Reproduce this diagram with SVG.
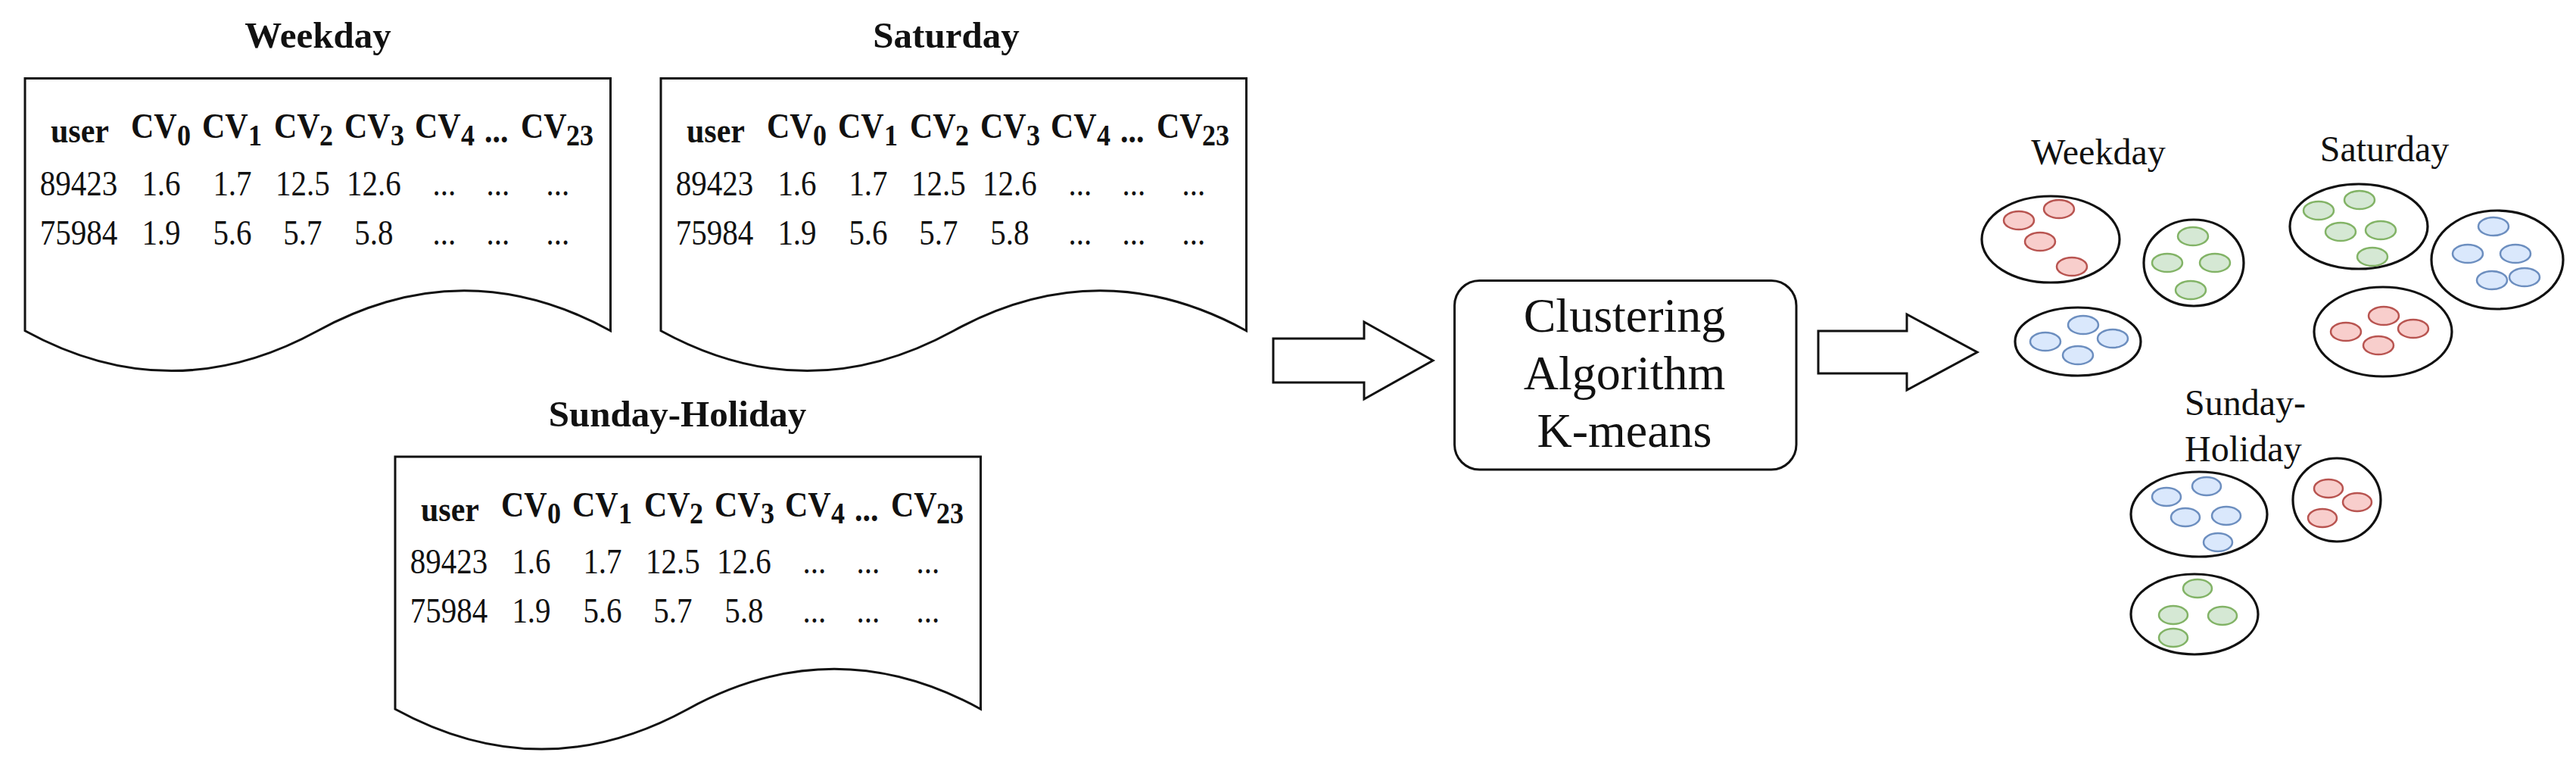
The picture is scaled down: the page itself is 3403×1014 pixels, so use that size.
<svg xmlns="http://www.w3.org/2000/svg" xmlns:xlink="http://www.w3.org/1999/xlink" width="3403" height="1014" viewBox="0 0 3403 1014">
<style>
text{font-family:"Liberation Serif","Times New Roman",serif;fill:#111}
.ttl{font-weight:bold;font-size:49px;text-anchor:middle}
.hdr{font-weight:bold;font-size:42px}
.sub{font-weight:bold;font-size:36px}
.val{font-size:41px;text-anchor:middle}
.lbl{font-size:48px}
.alg{font-size:64px;text-anchor:middle}
.shape{fill:#fff;stroke:#111;stroke-width:3}
.grp{fill:none;stroke:#111;stroke-width:3.2}
.r{fill:#f8cecc;stroke:#b85450;stroke-width:2.5}
.g{fill:#d5e8d4;stroke:#82b366;stroke-width:2.5}
.b{fill:#dae8fc;stroke:#6c8ebf;stroke-width:2.5}
</style>
<defs>
<path id="docShape" class="shape" d="M0,0 H773.5 V333.2 Q580.1,227.4 386.75,333.2 Q193.4,439 0,333.2 Z"/>
<g id="tbl">
<g transform="scale(1,1.13)">
<text class="hdr" x="34" y="74.8">user</text>
<text class="hdr" x="140" y="69.5">CV</text><text class="sub" x="201" y="78.3">0</text>
<text class="hdr" x="234" y="69.5">CV</text><text class="sub" x="295" y="78.3">1</text>
<text class="hdr" x="329" y="69.5">CV</text><text class="sub" x="389" y="78.3">2</text>
<text class="hdr" x="422" y="69.5">CV</text><text class="sub" x="483" y="78.3">3</text>
<text class="hdr" x="515" y="69.5">CV</text><text class="sub" x="576" y="78.3">4</text>
<text class="hdr" x="607" y="74.8">...</text>
<text class="hdr" x="655" y="69.5">CV</text><text class="sub" x="715" y="78.3">23</text>
<text class="val" x="71" y="136.7">89423</text>
<text class="val" x="180" y="136.7">1.6</text>
<text class="val" x="274" y="136.7">1.7</text>
<text class="val" x="367" y="136.7">12.5</text>
<text class="val" x="461" y="136.7">12.6</text>
<text class="val" x="554" y="136.7">...</text>
<text class="val" x="625" y="136.7">...</text>
<text class="val" x="704" y="136.7">...</text>
<text class="val" x="71" y="194.2">75984</text>
<text class="val" x="180" y="194.2">1.9</text>
<text class="val" x="274" y="194.2">5.6</text>
<text class="val" x="367" y="194.2">5.7</text>
<text class="val" x="461" y="194.2">5.8</text>
<text class="val" x="554" y="194.2">...</text>
<text class="val" x="625" y="194.2">...</text>
<text class="val" x="704" y="194.2">...</text>
</g>
</g>
</defs>
<rect width="3403" height="1014" fill="#fff"/>

<g id="doc-weekday">
<text class="ttl" x="420" y="63">Weekday</text>
<g transform="translate(33,103.5)"><use href="#docShape"/><use href="#tbl"/></g>
</g>
<g id="doc-saturday">
<text class="ttl" x="1250" y="63">Saturday</text>
<g transform="translate(873,103.5)"><use href="#docShape"/><use href="#tbl"/></g>
</g>
<g id="doc-sunday">
<text class="ttl" x="895" y="563">Sunday-Holiday</text>
<g transform="translate(522,603)"><use href="#docShape"/><use href="#tbl"/></g>
</g>

<g id="clustering">
<rect class="shape" x="1921.5" y="370.5" width="451.5" height="249.5" rx="33"/>
<text class="alg" x="2146" y="438">Clustering</text>
<text class="alg" x="2146" y="514">Algorithm</text>
<text class="alg" x="2146" y="590">K-means</text>
</g>

<g id="connectors">
<polygon id="arrow-in" class="shape" points="1682,447 1802,447 1802,425 1893,476 1802,527 1802,505 1682,505"/>
<polygon id="arrow-out" class="shape" points="2402,437 2519,437 2519,415 2612,465 2519,515 2519,493 2402,493"/>
</g>

<g id="clusters-weekday">
<text class="lbl" x="2772" y="217" text-anchor="middle">Weekday</text>
<ellipse class="grp" cx="2709" cy="316" rx="91" ry="57"/>
<ellipse class="r" cx="2667" cy="291" rx="20" ry="12"/>
<ellipse class="r" cx="2720" cy="276" rx="20" ry="12"/>
<ellipse class="r" cx="2695" cy="319" rx="20" ry="12"/>
<ellipse class="r" cx="2737" cy="352" rx="20" ry="12"/>
<ellipse class="grp" cx="2898" cy="347" rx="66" ry="57"/>
<ellipse class="g" cx="2897" cy="312" rx="20" ry="12"/>
<ellipse class="g" cx="2863" cy="347" rx="20" ry="12"/>
<ellipse class="g" cx="2926" cy="347" rx="20" ry="12"/>
<ellipse class="g" cx="2894" cy="383" rx="20" ry="12"/>
<ellipse class="grp" cx="2745" cy="451" rx="83" ry="45"/>
<ellipse class="b" cx="2752" cy="429" rx="20" ry="12"/>
<ellipse class="b" cx="2702" cy="451" rx="20" ry="12"/>
<ellipse class="b" cx="2791" cy="447" rx="20" ry="12"/>
<ellipse class="b" cx="2745" cy="469" rx="20" ry="12"/>
</g>

<g id="clusters-saturday">
<text class="lbl" x="3150" y="213" text-anchor="middle">Saturday</text>
<ellipse class="grp" cx="3116" cy="299" rx="91" ry="56"/>
<ellipse class="g" cx="3063" cy="278" rx="20" ry="12"/>
<ellipse class="g" cx="3117" cy="264" rx="20" ry="12"/>
<ellipse class="g" cx="3092" cy="306" rx="20" ry="12"/>
<ellipse class="g" cx="3145" cy="304" rx="20" ry="12"/>
<ellipse class="g" cx="3134" cy="339" rx="20" ry="12"/>
<ellipse class="grp" cx="3299" cy="343" rx="87" ry="65"/>
<ellipse class="b" cx="3294" cy="299" rx="20" ry="12"/>
<ellipse class="b" cx="3260" cy="335" rx="20" ry="12"/>
<ellipse class="b" cx="3323" cy="335" rx="20" ry="12"/>
<ellipse class="b" cx="3292" cy="370" rx="20" ry="12"/>
<ellipse class="b" cx="3335" cy="366" rx="20" ry="12"/>
<ellipse class="grp" cx="3148" cy="438" rx="91" ry="59"/>
<ellipse class="r" cx="3149" cy="417" rx="20" ry="12"/>
<ellipse class="r" cx="3099" cy="438" rx="20" ry="12"/>
<ellipse class="r" cx="3188" cy="434" rx="20" ry="12"/>
<ellipse class="r" cx="3142" cy="456" rx="20" ry="12"/>
</g>

<g id="clusters-sunday">
<text class="lbl" x="2886" y="548">Sunday-</text>
<text class="lbl" x="2886" y="609">Holiday</text>
<ellipse class="grp" cx="2905" cy="679" rx="90" ry="56"/>
<ellipse class="b" cx="2862" cy="656" rx="19" ry="12"/>
<ellipse class="b" cx="2915" cy="642" rx="19" ry="12"/>
<ellipse class="b" cx="2887" cy="683" rx="19" ry="12"/>
<ellipse class="b" cx="2941" cy="681" rx="19" ry="12"/>
<ellipse class="b" cx="2930" cy="716" rx="19" ry="12"/>
<ellipse class="grp" cx="3087" cy="660" rx="58" ry="55"/>
<ellipse class="r" cx="3076" cy="645" rx="19" ry="12"/>
<ellipse class="r" cx="3114" cy="663" rx="19" ry="12"/>
<ellipse class="r" cx="3068" cy="684" rx="19" ry="12"/>
<ellipse class="grp" cx="2899" cy="811" rx="84" ry="53"/>
<ellipse class="g" cx="2903" cy="777" rx="19" ry="12"/>
<ellipse class="g" cx="2871" cy="812" rx="19" ry="12"/>
<ellipse class="g" cx="2936" cy="813" rx="19" ry="12"/>
<ellipse class="g" cx="2871" cy="842" rx="19" ry="12"/>
</g>
</svg>
